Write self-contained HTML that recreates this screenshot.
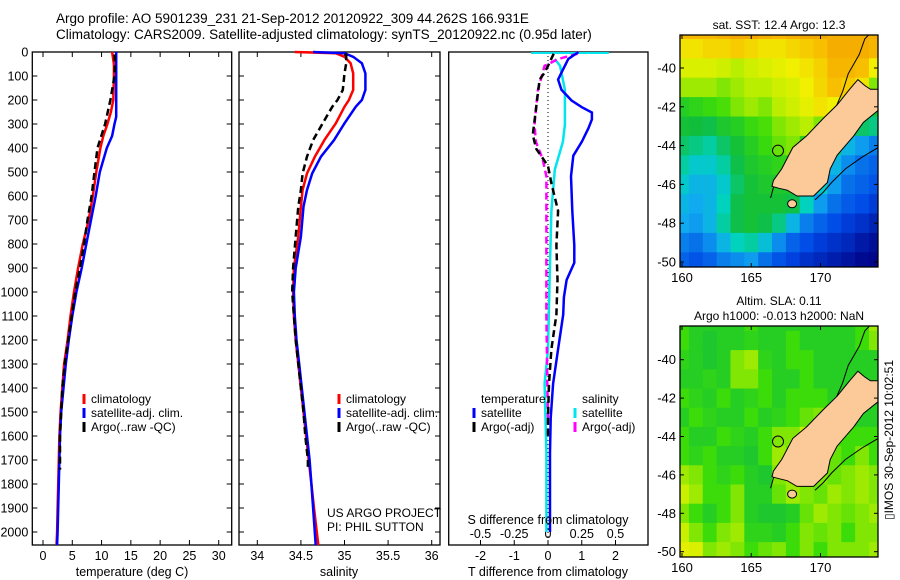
<!DOCTYPE html>
<html><head><meta charset="utf-8"><style>
html,body{margin:0;padding:0;background:#fff;}
svg{display:block;font-family:"Liberation Sans",sans-serif;}
text{fill:#000;}
</style></head><body>
<svg id="fig" xmlns="http://www.w3.org/2000/svg" width="900" height="580" viewBox="0 0 900 580">
<text x="56" y="23" font-size="13.5">Argo profile: AO 5901239_231 21-Sep-2012 20120922_309 44.262S 166.931E</text>
<text x="56" y="39" font-size="13.5">Climatology: CARS2009. Satellite-adjusted climatology: synTS_20120922.nc (0.95d later)</text>
<g id="p1"></g>
<g id="p2"></g>
<g id="p3"></g>
<g id="m1"></g>
<g id="m2"></g>
<text transform="translate(893,440) rotate(-90)" text-anchor="middle" font-size="12">▯IMOS 30-Sep-2012 10:02:51</text>
</svg>
<script>
// ---- Temperature profiles (depth m, deg C)
const tClimDepth = [0,50,100,200,250,300,350,400,500,600,700,800,900,1000,1100,1200,1300,1400,1500,1600,1700,1800,1900,2000,2054];
const tClimVal   = [11.8,12.1,12.1,12.0,11.6,11.0,10.3,9.8,9.1,8.5,7.8,6.8,6.0,5.3,4.7,4.2,3.6,3.3,3.0,2.8,2.7,2.6,2.5,2.4,2.3];
const tSatDepth  = [0,100,270,300,350,400,500,600,700,800,900,1000,1100,1200,1300,1400,1500,1600,1700,1800,1900,2000,2054];
const tSatVal    = [12.5,12.5,12.5,12.2,11.8,10.9,9.7,9.0,8.2,7.4,6.6,5.7,5.0,4.4,3.9,3.5,3.1,2.9,2.8,2.7,2.6,2.5,2.4];
const tArgoDepth = [10,50,100,200,300,400,500,600,700,800,900,1000,1100,1200,1300,1400,1500,1600,1700,1740];
const tArgoVal   = [12.2,12.3,12.2,11.5,10.6,9.3,8.8,8.3,7.6,7.0,6.3,5.5,4.9,4.3,3.7,3.3,3.1,2.9,2.9,2.9];
// ---- Salinity profiles
const sClimDepth = [0,5,20,47,89,158,200,228,297,367,436,506,575,644,769,900,1000,1100,1200,1300,1400,1500,1600,1700,1800,1900,2054];
const sClimVal   = [34.43,34.9,35.0,35.07,35.1,35.1,35.05,35.0,34.9,34.77,34.66,34.57,34.52,34.5,34.47,34.42,34.41,34.42,34.44,34.47,34.5,34.53,34.56,34.59,34.62,34.65,34.7];
const sSatDepth  = [0,5,20,47,89,158,200,228,297,367,436,506,575,644,769,900,1000,1100,1200,1300,1400,1500,1600,1700,1800,1900,2054];
const sSatVal    = [34.64,35.0,35.1,35.2,35.24,35.24,35.2,35.13,35.0,34.88,34.73,34.63,34.57,34.53,34.5,34.44,34.42,34.43,34.45,34.48,34.51,34.54,34.57,34.6,34.62,34.64,34.67];
const sArgoDepth = [5,47,89,158,200,228,297,367,436,506,575,644,769,900,1000,1100,1200,1300,1400,1500,1600,1700,1740];
const sArgoVal   = [35.02,35.02,35.0,34.98,34.92,34.86,34.75,34.64,34.57,34.52,34.5,34.47,34.44,34.41,34.4,34.42,34.44,34.47,34.5,34.53,34.55,34.58,34.58];
// ---- Differences (T in deg C, S in psu)
const dTSatDepth = [0,29,86,115,158,202,230,252,281,317,374,432,518,662,806,878,950,1022,1094,1238,1382,1526,1670,2000];
const dTSatVal   = [0.9,0.6,0.4,0.3,0.4,0.7,1.0,1.3,1.3,1.2,1.0,0.75,0.68,0.72,0.78,0.78,0.55,0.47,0.45,0.3,0.15,0.08,0.06,0.06];
const dTArgoDepth= [7,58,86,115,230,345,403,475,547,662,806,950,1094,1238,1382,1526,1600];
const dTArgoVal  = [0.17,0.0,-0.1,-0.25,-0.35,-0.45,-0.35,0.0,0.1,0.3,0.25,0.28,0.25,0.1,0.03,0.0,0.0];
const dSSatDepth = [29,58,158,302,374,490,662,950,1238,1382,1670,2000];
const dSSatVal   = [0.05,0.09,0.125,0.125,0.11,0.05,0.025,0.012,0.0,-0.025,-0.012,-0.012];
const dSArgoDepth= [7,29,58,158,302,374,446,518,806,1094,1382,1526];
const dSArgoVal  = [0.22,0.075,-0.025,-0.075,-0.1,-0.09,-0.04,-0.012,-0.012,-0.012,-0.005,0.0];
const dSSurfSpan = [-0.125,0.45];
// ---- tick labels
const depthTicks = [0,100,200,300,400,500,600,700,800,900,1000,1100,1200,1300,1400,1500,1600,1700,1800,1900,2000];
const tempTicks = [0,5,10,15,20,25,30];
const salTicks = [34,34.5,35,35.5,36];
const dTTicks = [-2,-1,0,1,2];
const dSTicks = [-0.5,-0.25,0,0.25,0.5];
const dSTickLabels = ["-0.5","-0.25","0","0.25","0.5"];
// ---- maps (rows lat -38..-50, cols lon 160..174)
const mapLats = [-38,-39,-40,-41,-42,-43,-44,-45,-46,-47,-48,-49,-50];
const mapLons = [160,161,162,163,164,165,166,167,168,169,170,171,172,173,174];
const sstGrid = [
[.82,.82,.82,.84,.86,.86,.84,.82,.84,.86,.86,.84,.84,.84,.84],
[.74,.74,.76,.76,.78,.76,.74,.74,.76,.78,.8,.84,.84,.84,.82],
[.68,.68,.68,.66,.64,.66,.68,.7,.72,.74,.77,.82,.82,.8,.72],
[.62,.62,.62,.6,.62,.64,.64,.66,.68,.72,.76,.8,.78,.74,.6],
[.5,.52,.54,.56,.6,.62,.6,.64,.66,.7,.74,.72,.6,.5,.46],
[.46,.45,.44,.48,.5,.54,.56,.6,.62,.64,.6,.5,.44,.42,.4],
[.42,.4,.38,.42,.46,.5,.54,.58,.6,.52,.46,.4,.3,.26,.22],
[.38,.34,.34,.38,.44,.48,.5,.52,.5,.48,.4,.3,.24,.2,.18],
[.34,.3,.3,.34,.42,.46,.48,.48,.48,.44,.34,.26,.2,.18,.16],
[.3,.28,.3,.36,.44,.46,.46,.46,.44,.36,.26,.2,.17,.15,.12],
[.28,.26,.3,.38,.44,.46,.44,.4,.3,.22,.18,.15,.12,.1,.07],
[.22,.2,.24,.3,.36,.38,.32,.24,.18,.15,.12,.1,.08,.05,.03],
[.18,.16,.18,.22,.24,.26,.2,.16,.13,.1,.08,.06,.04,.02,.01]];
const slaGrid = [
[.55,.5,.5,.5,.5,.55,.5,.5,.5,.5,.5,.5,.5,.55,.62],
[.55,.5,.48,.5,.5,.52,.5,.5,.55,.5,.5,.5,.5,.55,.6],
[.52,.5,.48,.5,.6,.62,.52,.5,.55,.55,.5,.5,.5,.5,.5],
[.5,.5,.52,.5,.6,.6,.55,.5,.5,.55,.5,.5,.5,.5,.5],
[.55,.52,.5,.55,.5,.52,.55,.5,.55,.55,.55,.5,.5,.5,.5],
[.5,.55,.52,.5,.5,.55,.5,.52,.55,.58,.6,.55,.55,.5,.5],
[.55,.5,.5,.55,.52,.5,.55,.6,.6,.65,.58,.55,.55,.55,.55],
[.55,.52,.55,.5,.5,.48,.55,.62,.58,.55,.55,.58,.55,.6,.55],
[.62,.6,.55,.52,.55,.5,.48,.6,.62,.55,.6,.58,.6,.62,.6],
[.65,.62,.55,.55,.6,.5,.5,.58,.62,.6,.58,.62,.6,.62,.6],
[.6,.55,.5,.55,.6,.5,.48,.48,.5,.58,.62,.6,.58,.6,.62],
[.65,.6,.55,.6,.62,.52,.52,.5,.55,.6,.58,.6,.55,.6,.6],
[.7,.68,.6,.62,.6,.55,.58,.6,.55,.6,.55,.6,.6,.6,.62]];
const landLon = [166.5,166.6,167.2,168.0,169.0,170.2,171.2,172.1,172.7,173.2,173.6,174.4,174.4,173.1,172.4,171.2,170.7,170.5,169.5,168.3,167.6,167.0];
const landLat = [-46.1,-45.8,-45.2,-44.1,-43.5,-42.6,-41.9,-41.1,-40.6,-40.9,-41.1,-41.1,-42.05,-42.8,-43.5,-44.5,-45.2,-45.9,-46.6,-46.6,-46.3,-46.2];
const contourWLon = [166.4,166.7,167.6,168.8,170.0,171.0,171.6,172.0,172.8,173.2,173.6];
const contourWLat = [-46.7,-45.9,-44.8,-43.9,-43.0,-42.2,-41.2,-40.3,-39.3,-38.5,-38.2];
const contourELon = [174.4,173.0,171.8,170.8,170.2,169.6];
const contourELat = [-44.0,-44.6,-45.2,-45.9,-46.4,-46.8];
const argoLon = 166.931, argoLat = -44.262;

const NS='http://www.w3.org/2000/svg';
function mk(parent,tag,attrs,txt){const e=document.createElementNS(NS,tag);for(const k in attrs)e.setAttribute(k,attrs[k]);if(txt!==undefined)e.textContent=txt;parent.appendChild(e);return e;}
const Y0=52, YS=0.24, YB=545;
const yD = d => Y0 + d*YS;

function frame(g,L,R){
  const r=mk(g,'rect',{x:L,y:Y0,width:R-L,height:YB-Y0,fill:'none',stroke:'#000','stroke-width':1.3});
  
  
}
function line(g,xs,ds,xf,color,dash,name,w){
  let d='';for(let i=0;i<xs.length;i++){d+=(i?'L':'M')+xf(xs[i]).toFixed(1)+','+yD(ds[i]).toFixed(1);}
  const p=mk(g,'path',{d:d,fill:'none',stroke:color,'stroke-width':w||2.5,'stroke-dasharray':dash||'none'});
  
  
}
function ytickmarks(g,L,R,labels){
  depthTicks.forEach(t=>{const y=yD(t);
    mk(g,'line',{x1:L,y1:y,x2:L+5,y2:y,stroke:'#000'});mk(g,'line',{x1:R,y1:y,x2:R-5,y2:y,stroke:'#000'});
    if(labels){const tx=mk(g,'text',{x:L-4,y:y+4.5,'font-size':12.5,'text-anchor':'end'},String(t));
      
      }
  });
}
function xtickmarks(g,ticks,xf,labs,topToo){
  ticks.forEach((t,i)=>{const x=xf(t);
    mk(g,'line',{x1:x,y1:YB,x2:x,y2:YB-5,stroke:'#000'});
    if(topToo)mk(g,'line',{x1:x,y1:Y0,x2:x,y2:Y0+5,stroke:'#000'});
    const tx=mk(g,'text',{x:x,y:YB+15,'font-size':12.5,'text-anchor':'middle'},labs?labs[i]:String(t));
    
    
  });
}
function legend(g,x,y,color,label){
  const l=mk(g,'line',{x1:x,y1:y-9,x2:x,y2:y+1,stroke:color,'stroke-width':3});
  
  
  const t=mk(g,'text',{x:x+7,y:y,'font-size':12},label);
  
  
}
// Panel 1
(function(){
  const g=document.getElementById('p1'),L=32.3,R=231.7;
  const xf=v=>43+v*5.857;
  frame(g,L,R);ytickmarks(g,L,R,true);xtickmarks(g,tempTicks,xf,null,true);
  line(g,tClimVal,tClimDepth,xf,'#ff0000',null,'temperature-climatology-line');
  line(g,tSatVal,tSatDepth,xf,'#0000ff',null,'temperature-satellite-line');
  line(g,tArgoVal,tArgoDepth,xf,'#000',"7,4",'temperature-argo-line');
  const t=mk(g,'text',{x:132,y:576,'font-size':12.5,'text-anchor':'middle'},'temperature (deg C)');
  
  
  legend(g,84,403,'#ff0000','climatology');legend(g,84,417,'#0000ff','satellite-adj. clim.');legend(g,84,431,'#000','Argo(..raw -QC)');
})();
// Panel 2
(function(){
  const g=document.getElementById('p2'),L=239,R=440;
  const xf=v=>257.3+(v-34)*87.2;
  frame(g,L,R);ytickmarks(g,L,R,false);xtickmarks(g,salTicks,xf,null,true);
  line(g,sClimVal,sClimDepth,xf,'#ff0000',null,'salinity-climatology-line');
  line(g,sSatVal,sSatDepth,xf,'#0000ff',null,'salinity-satellite-line');
  line(g,sArgoVal,sArgoDepth,xf,'#000',"7,4",'salinity-argo-line');
  const t=mk(g,'text',{x:339,y:576,'font-size':12.5,'text-anchor':'middle'},'salinity');
  
  
  legend(g,339,403,'#ff0000','climatology');legend(g,339,417,'#0000ff','satellite-adj. clim.');legend(g,339,431,'#000','Argo(..raw -QC)');
  const a=mk(g,'text',{x:327,y:517,'font-size':12},'US ARGO PROJECT');
  
  
  const b=mk(g,'text',{x:327,y:531,'font-size':12},'PI: PHIL SUTTON');
  
  
})();
// Panel 3
(function(){
  const g=document.getElementById('p3'),L=448.7,R=648;
  const xf=v=>548+v*33.75, sf=v=>548+v*4*33.75;
  frame(g,L,R);
  dTTicks.forEach(t=>{const x=xf(t);mk(g,'line',{x1:x,y1:YB,x2:x,y2:YB-5,stroke:'#000'});
    const tx=mk(g,'text',{x:x,y:YB+15,'font-size':12.5,'text-anchor':'middle'},String(t));
    
    });
  dSTicks.forEach((t,i)=>{const x=sf(t);
    const tx=mk(g,'text',{x:x,y:538,'font-size':12.5,'text-anchor':'middle'},dSTickLabels[i]);
    
    });
  mk(g,'line',{x1:548,y1:Y0,x2:548,y2:YB,stroke:'#000','stroke-dasharray':'1,3','stroke-width':1});
  const sx=mk(g,'line',{x1:sf(dSSurfSpan[0]),y1:Y0+1,x2:sf(dSSurfSpan[1]),y2:Y0+1,stroke:'#00e5ee','stroke-width':2});
  
  
  line(g,dSSatVal,dSSatDepth,sf,'#00e5ee',null,'s-diff-satellite-line');
  line(g,dSArgoVal,dSArgoDepth,sf,'#ff00ff',"7,4",'s-diff-argo-line');
  line(g,dTSatVal,dTSatDepth,xf,'#0000ff',null,'t-diff-satellite-line');
  line(g,dTArgoVal,dTArgoDepth,xf,'#000',"7,4",'t-diff-argo-line');
  const s=mk(g,'text',{x:548,y:524,'font-size':12.5,'text-anchor':'middle'},'S difference from climatology');
  
  
  const t=mk(g,'text',{x:548,y:576,'font-size':12.5,'text-anchor':'middle'},'T difference from climatology');
  
  
  const h1=mk(g,'text',{x:481,y:403,'font-size':12},'temperature');
  
  
  const h2=mk(g,'text',{x:582,y:403,'font-size':12},'salinity');
  
  
  legend(g,474,417,'#0000ff','satellite');legend(g,474,431,'#000','Argo(-adj)');
  legend(g,575,417,'#00e5ee','satellite');legend(g,575,431,'#ff00ff','Argo(-adj)');
})();
// colormap
const cstops=[[0,[0,0,130]],[.14,[0,70,230]],[.28,[16,170,240]],[.36,[0,210,190]],[.45,[16,190,60]],[.55,[60,220,10]],[.65,[200,240,0]],[.72,[240,240,0]],[.8,[248,190,0]],[.9,[240,150,0]],[1,[230,110,0]]];
function cmap(v){for(let i=1;i<cstops.length;i++){if(v<=cstops[i][0]){const a=cstops[i-1],b=cstops[i],f=(v-a[0])/(b[0]-a[0]);
  return 'rgb('+a[1].map((c,k)=>Math.round(c+(b[1][k]-c)*f)).join(',')+')';}}return 'rgb(230,110,0)';}
function drawMap(id,top,bot,latRef,yRef,ys,grid,titles){
  const g=document.getElementById(id),L=680,R=878;
  const xf=lon=>682+(lon-160)*13.85, yf=lat=>yRef+(latRef-lat)*ys;
  const cp=mk(g,'clipPath',{id:id+'c'});mk(cp,'rect',{x:L,y:top,width:R-L,height:bot-top});
  const gg=mk(g,'g',{'clip-path':'url(#'+id+'c)'});
  mapLats.forEach((lat,i)=>mapLons.forEach((lon,j)=>{
    const c=mk(gg,'rect',{x:xf(lon-0.5),y:yf(lat+0.5),width:13.85+0.5,height:ys+0.5,fill:cmap(grid[i][j])});
    
    
  }));
  const pts=(lo,la)=>lo.map((v,i)=>xf(v).toFixed(1)+','+yf(la[i]).toFixed(1)).join(' ');
  const c1=mk(gg,'polyline',{points:pts(contourWLon,contourWLat),fill:'none',stroke:'#000','stroke-width':1});
  
  
  const c2=mk(gg,'polyline',{points:pts(contourELon,contourELat),fill:'none',stroke:'#000','stroke-width':1});
  
  
  const land=mk(gg,'polygon',{points:pts(landLon,landLat),fill:'#fbca98',stroke:'#000','stroke-width':1});
  
  
  const st=mk(gg,'ellipse',{cx:xf(167.95),cy:yf(-47.0),rx:4.5,ry:4,fill:'#fbca98',stroke:'#000'});
  
  
  const ap=mk(gg,'circle',{cx:xf(argoLon),cy:yf(argoLat),r:5.5,fill:'none',stroke:'#000','stroke-width':1});
  
  
  const fr=mk(g,'rect',{x:L,y:top,width:R-L,height:bot-top,fill:'none',stroke:'#000','stroke-width':1.3});
  
  
  [160,165,170].forEach(lon=>{const x=xf(lon);mk(g,'line',{x1:x,y1:top,x2:x,y2:top+4,stroke:'#000'});mk(g,'line',{x1:x,y1:bot,x2:x,y2:bot-4,stroke:'#000'});
    const t=mk(g,'text',{x:x,y:bot+15,'font-size':13,'text-anchor':'middle'},String(lon));
    
    });
  [-40,-42,-44,-46,-48,-50].forEach(lat=>{const y=yf(lat);mk(g,'line',{x1:L,y1:y,x2:L+4,y2:y,stroke:'#000'});mk(g,'line',{x1:R,y1:y,x2:R-4,y2:y,stroke:'#000'});
    const t=mk(g,'text',{x:L-4,y:y+4.5,'font-size':13,'text-anchor':'end'},String(lat));
    
    });
  titles.forEach((s,i)=>{const t=mk(g,'text',{x:779,y:top-(titles.length-1-i)*15-6,'font-size':12,'text-anchor':'middle'},s);
    
    });
}
drawMap('m1',35,267,-40,68,19.4,sstGrid,['sat. SST: 12.4  Argo: 12.3']);
drawMap('m2',326,557,-40,359.7,19.2,slaGrid,['Altim. SLA: 0.11','Argo h1000: -0.013 h2000: NaN']);
</script>
</body></html>
